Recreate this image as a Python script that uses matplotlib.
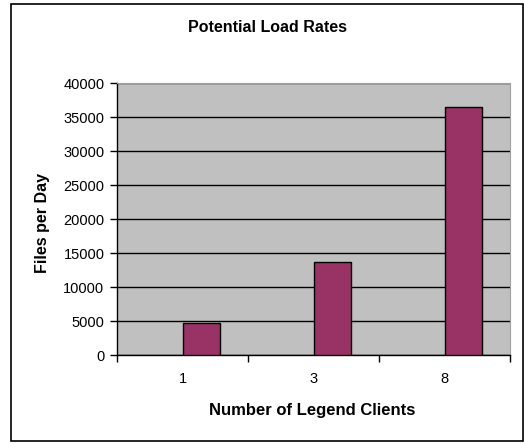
import matplotlib.pyplot as plt
from matplotlib.patches import Rectangle
import numpy as np

plt.rcParams['font.family'] = ['Liberation Sans', 'DejaVu Sans']

categories = ["1", "3", "8"]
files_per_day = [4650, 13650, 36400]
y_ticks = [0, 5000, 10000, 15000, 20000, 25000, 30000, 35000, 40000]

fig = plt.figure(figsize=(5.24, 4.44), dpi=100)
W, H = 524, 444

# outer chart frame
fig.add_artist(Rectangle((11 / W, 1 - 441 / H), (523 - 11) / W, (441 - 4) / H,
                         transform=fig.transFigure, fill=False,
                         edgecolor="black", linewidth=1.2))

ax = fig.add_axes([117 / W, 1 - 355 / H, (510 - 117) / W, (355 - 83) / H])
ax.set_facecolor("#c0c0c0")

x = np.arange(len(categories))
bar_w = 0.286
ax.bar(x, files_per_day, width=bar_w, align="edge", color="#993366",
       edgecolor="black", linewidth=1.0, zorder=3)

ax.set_xlim(-0.5, len(categories) - 0.5)
ax.set_ylim(0, 40000)
ax.set_yticks(y_ticks)
ax.set_yticklabels([str(v) for v in y_ticks])
ax.yaxis.grid(True, color="black", linewidth=1.0, zorder=1)
ax.set_axisbelow(True)

ax.set_xticks(np.arange(-0.5, len(categories), 1.0))
ax.set_xticklabels([])
ax.set_xticks(x, minor=True)
ax.set_xticklabels(categories, minor=True)
ax.tick_params(axis="x", which="minor", length=0, pad=12, labelsize=10.5)
ax.tick_params(axis="x", which="major", length=5, width=1, direction="out")
ax.tick_params(axis="y", length=5, width=1, direction="out", labelsize=10.5, pad=4)

for side in ["top", "right"]:
    ax.spines[side].set_color("#a0a0a0")
    ax.spines[side].set_linewidth(0.8)
for side in ["left", "bottom"]:
    ax.spines[side].set_color("black")
    ax.spines[side].set_linewidth(1.0)

fig.text(267 / W, 1 - 28 / H, "Potential Load Rates", ha="center", va="center",
         fontsize=11.5, fontweight="bold")
fig.text(43 / W, 1 - 223 / H, "Files per Day", ha="center", va="center",
         rotation=90, fontsize=11.5, fontweight="bold")
fig.text(312 / W, 1 - 410 / H, "Number of Legend Clients", ha="center", va="center",
         fontsize=12, fontweight="bold")

fig.savefig("out.png", dpi=100)
